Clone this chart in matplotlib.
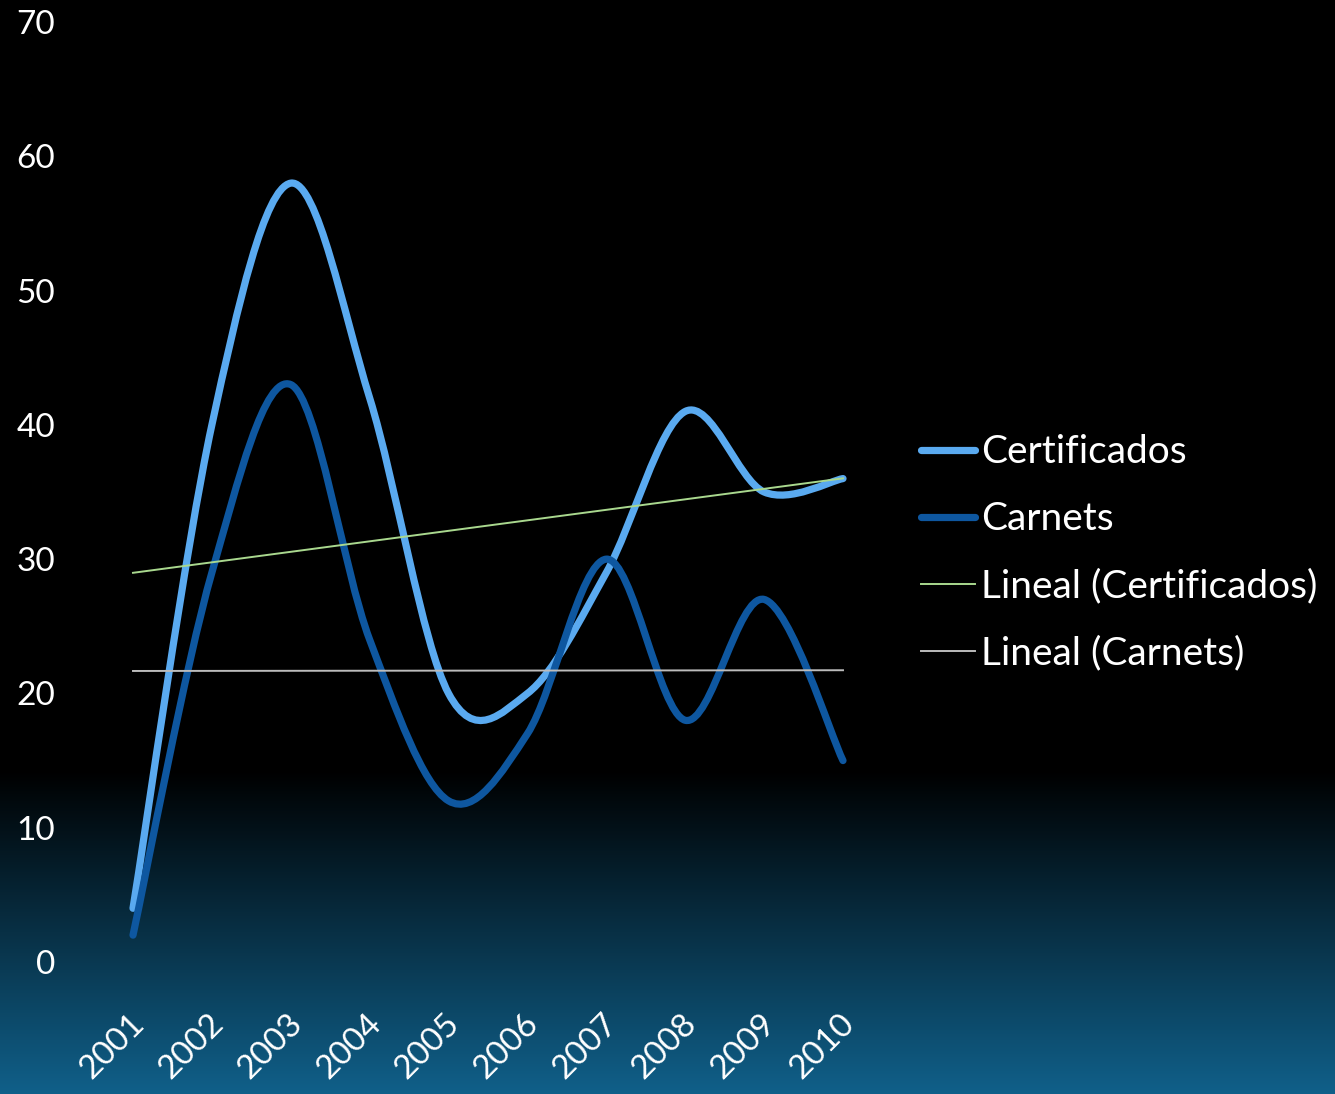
import numpy as np
import matplotlib
matplotlib.use("Agg")
import matplotlib.pyplot as plt
from matplotlib.path import Path
from matplotlib.patches import PathPatch
from matplotlib.lines import Line2D
import matplotlib.transforms as mtrans

years = ["2001", "2002", "2003", "2004", "2005", "2006", "2007", "2008", "2009", "2010"]
certificados = [4, 40, 58, 42, 20, 20, 29, 41, 35, 36]
carnets = [2, 29, 43, 24, 12, 17, 30, 18, 27, 15]
yticks = [0, 10, 20, 30, 40, 50, 60, 70]

plt.rcParams['font.family'] = ['Lato', 'DejaVu Sans']

W, H = 1335, 1094
fig = plt.figure(figsize=(W / 100, H / 100), dpi=100)

# background gradient
bg = fig.add_axes([0, 0, 1, 1], zorder=-10)
bg.set_axis_off()
rows = np.arange(H)
t = np.clip((rows - 770) / (H - 770), 0, 1)
bottom = np.array([16, 96, 138]) / 255.0
grad = (t[:, None] * bottom[None, :])[:, None, :].repeat(2, axis=1)
bg.imshow(grad, aspect='auto', extent=[0, 1, 0, 1], interpolation='bilinear')
bg.set_xlim(0, 1)
bg.set_ylim(0, 1)

ax = fig.add_axes([133 / W, (H - 962) / H, 710 / W, 940 / H])
ax.set_facecolor('none')
x = np.arange(1, len(years) + 1)


def smooth_path(xs, ys):
    pts = np.column_stack([xs, ys]).astype(float)
    n = len(pts)
    verts = [pts[0]]
    codes = [Path.MOVETO]
    for i in range(n - 1):
        p0 = pts[i - 1] if i > 0 else pts[i]
        p1 = pts[i]
        p2 = pts[i + 1]
        p3 = pts[i + 2] if i + 2 < n else pts[i + 1]
        c1 = p1 + (p2 - p0) / 6.0
        c2 = p2 - (p3 - p1) / 6.0
        verts += [c1, c2, p2]
        codes += [Path.CURVE4] * 3
    return Path(verts, codes)


c_cert = '#5aaaf0'
c_carn = '#0e57a0'
for ys, col, z in [(certificados, c_cert, 3), (carnets, c_carn, 4)]:
    patch = PathPatch(smooth_path(x, ys), fill=False, edgecolor=col, lw=5.2,
                      capstyle='round', joinstyle='round', zorder=z, clip_on=False)
    ax.add_patch(patch)

# linear trendlines
c_tc = '#a9d88e'
c_tk = '#bcbcbc'
for ys, col in [(certificados, c_tc), (carnets, c_tk)]:
    m, b = np.polyfit(x, ys, 1)
    ax.plot(x, m * x + b, color=col, lw=1.4, zorder=5, clip_on=False)

ax.set_xlim(1, 10)
ax.set_ylim(0, 70)
for s in ax.spines.values():
    s.set_visible(False)
ax.set_yticks(yticks)
ax.set_yticklabels([str(v) for v in yticks], fontsize=24, color='white')
ax.tick_params(axis='y', length=0, pad=56)
ax.set_xticks(x)
ax.set_xticklabels(years, fontsize=24, color='white', rotation=45,
                   ha='right', va='top', rotation_mode='anchor')
ax.tick_params(axis='x', length=0, pad=33)
for lab in ax.get_xticklabels():
    lab.set_transform(lab.get_transform() + mtrans.ScaledTranslation(-0.04, 0, fig.dpi_scale_trans))

handles = [
    Line2D([], [], color=c_cert, lw=5.2, solid_capstyle='round'),
    Line2D([], [], color=c_carn, lw=5.2, solid_capstyle='round'),
    Line2D([], [], color=c_tc, lw=1.4),
    Line2D([], [], color=c_tk, lw=1.4),
]
labels = ["Certificados", "Carnets", "Lineal (Certificados)", "Lineal (Carnets)"]
leg = fig.legend(handles, labels, loc='center left', bbox_to_anchor=(921 / W, 1 - 553 / H),
                 frameon=False, fontsize=28, labelcolor='white', handlelength=1.4,
                 handletextpad=0.15, labelspacing=0.8, borderpad=0, borderaxespad=0)

fig.savefig('out.png', dpi=100, facecolor='black')
